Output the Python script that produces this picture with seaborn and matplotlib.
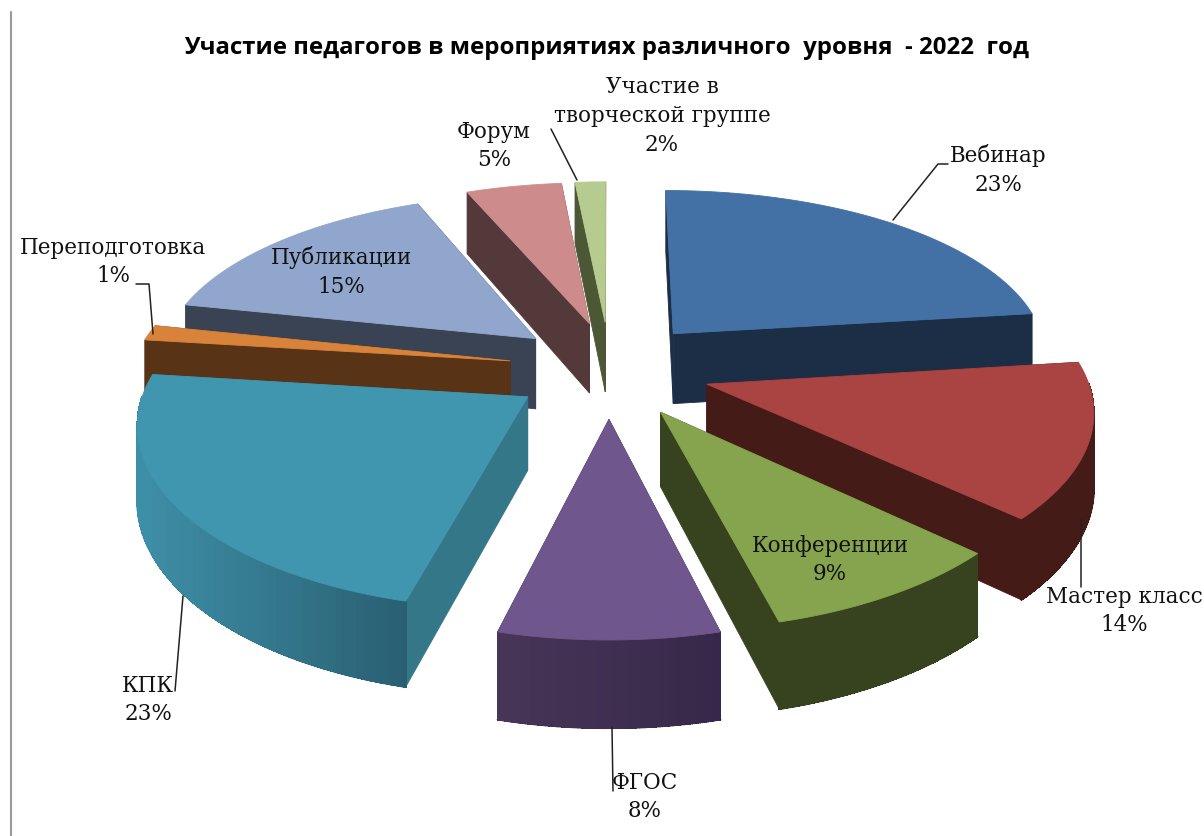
import numpy as np
import seaborn as sns
from matplotlib import pyplot as plt
from matplotlib.patches import Polygon

# values in pie order, clockwise from the top (labels show them rounded)
categories = ['Вебинар', 'Мастер класс', 'Конференции', 'ФГОС', 'КПК',
              'Переподготовка', 'Публикации', 'Форум', 'Участие в\nтворческой группе']
shares = [23, 14, 9, 8, 23, 1.4, 15.4, 4.7, 1.5]

top_colors = ['#4471a5', '#a94442', '#86a34d', '#6f568d', '#3f96ae',
              '#d9833a', '#91a6cd', '#cd8c8b', '#b6cb8f']
wall_left = ['#1b2e46', '#451b18', '#37431f', '#483558', '#3d8fa7',
             '#583316', '#3a4353', '#533939', '#4b5735']
wall_right = ['#1b2e46', '#451b18', '#37431f', '#36284a', '#2a5f72',
              '#583316', '#3a4353', '#533939', '#4b5735']
side_colors = ['#1b2e46', '#451b18', '#37431f', '#36284a', '#347789',
               '#583316', '#3a4353', '#533939', '#4b5735']

# label centres, leader lines and small sideways nudges, in picture pixels
label_pos = [(998, 170), (1124, 611), (830, 560), (645, 797), (148, 700),
             (113, 262), (341, 272), (494, 146), (662, 116)]
leaders = [[(893, 221), (938, 165), (948, 165)],
           [(1081, 520), (1081, 588)],
           None,
           [(612, 728), (613, 792)],
           [(183, 597), (175, 692)],
           [(153, 335), (149, 285), (136, 285)],
           None,
           None,
           [(577, 181), (551, 130)]]
nudge_x = [0, 0, 0, 4, 12, 9, 10, 9, 5]

CX, CY = 605, 370
F, H, DEPTH = 378, 173, 72
CAM_X, CAM_Y = 8.0, 7.0
EXPLODE = 0.28


def project(x, y, z=0.0):
    # simple pinhole view of the pie plane, z=1 is the bottom of the slice
    sx = CAM_X / (CAM_X + y)
    sy = CAM_Y / (CAM_Y + y)
    return np.column_stack([CX + F * x * sx, CY - H * y * sy + DEPTH * z * sy])


def add_poly(ax, pts, color, smooth=True):
    ax.add_patch(Polygon(pts, closed=True, facecolor=color, edgecolor=color, lw=0.6,
                         antialiased=smooth))


def draw_slice(ax, a0, a1, i):
    mid = (a0 + a1) / 2
    ox, oy = EXPLODE * np.sin(mid), EXPLODE * np.cos(mid)
    t = np.linspace(a0, a1, max(int(np.degrees(a1 - a0)) * 2, 6))
    ax_x, ax_y = ox + np.sin(t), oy + np.cos(t)

    shift = np.array([nudge_x[i], 0])
    tip_top = project(np.array([ox]), np.array([oy])) + shift
    tip_bot = project(np.array([ox]), np.array([oy]), 1) + shift
    arc_top = project(ax_x, ax_y) + shift
    arc_bot = project(ax_x, ax_y, 1) + shift

    # radial walls, far one first
    sides = [(ax_y[0], arc_top[0], arc_bot[0]), (ax_y[-1], arc_top[-1], arc_bot[-1])]
    sides.sort(key=lambda w: -w[0])
    for _, a, b in sides:
        add_poly(ax, [tip_top[0], a, b, tip_bot[0]], side_colors[i])

    # curved outer wall with the horizontal shading, only the part facing the viewer
    shade = sns.blend_palette([wall_left[i], wall_right[i]], 40)
    xs = arc_top[:, 0]
    span = max(xs.max() - xs.min(), 1)
    for k in range(len(t) - 1):
        if np.cos((t[k] + t[k + 1]) / 2) > 0:
            continue
        c = shade[int((xs[k] - xs.min()) / span * 39)]
        add_poly(ax, [arc_top[k], arc_top[k + 1], arc_bot[k + 1], arc_bot[k]], c, smooth=False)
        ax.plot(arc_bot[k:k + 2, 0], arc_bot[k:k + 2, 1], color=c, lw=1.4, solid_capstyle='round')

    add_poly(ax, np.vstack([tip_top, arc_top]), top_colors[i])


sns.set_theme(style='white')
plt.rcParams['font.family'] = ['DejaVu Serif', 'DejaVu Sans']

fig = plt.figure(figsize=(12.04, 8.37), dpi=100)
ax = fig.add_axes([0, 0, 1, 1])
ax.set_xlim(0, 1204)
ax.set_ylim(837, 0)
ax.axis('off')

edges = np.radians(np.cumsum([0] + shares) / sum(shares) * 360)
mids = (edges[:-1] + edges[1:]) / 2
for i in np.argsort(-np.cos(mids)):
    draw_slice(ax, edges[i], edges[i + 1], i)

ax.plot([11, 11], [13, 837], color='#9a9a9a', lw=1.5)

for i, (name, val) in enumerate(zip(categories, shares)):
    x, y = label_pos[i]
    ax.text(x, y, f'{name}\n{val:.0f}%', ha='center', va='center', fontsize=15.5,
            color='#111111', linespacing=1.4)
    if leaders[i] is not None:
        xs, ys = zip(*leaders[i])
        ax.plot(xs, ys, color='#222222', lw=1.1)

ax.text(607, 48, 'Участие педагогов в мероприятиях различного  уровня  - 2022  год',
        ha='center', va='center', fontsize=17.3, fontweight='bold', color='black',
        family=['Open Sans', 'DejaVu Sans'])

fig.savefig('out.png', dpi=100)
